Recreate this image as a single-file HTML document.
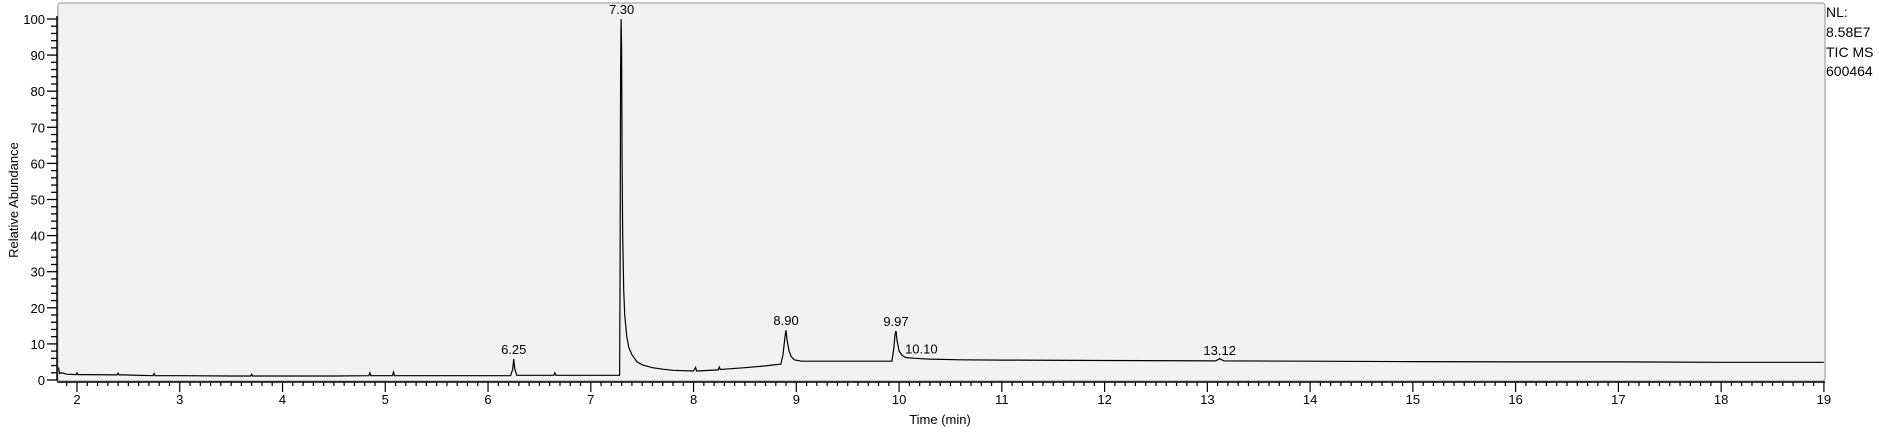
<!DOCTYPE html>
<html><head><meta charset="utf-8"><style>
body{margin:0;background:#fff;}
svg{display:block;font-family:"Liberation Sans",Arial,sans-serif;}
</style></head><body>
<svg width="1879" height="432" viewBox="0 0 1879 432">
<g id="plot"></g>
<g id="axes"></g>
<text x="1826" y="17" font-size="14">NL:</text>
<text x="1826" y="37" font-size="14">8.58E7</text>
<text x="1826" y="57" font-size="14">TIC  MS</text>
<text x="1826" y="76" font-size="14">600464</text>
<text x="940" y="424" font-size="13" text-anchor="middle">Time (min)</text>
<text transform="translate(18,200) rotate(-90)" font-size="13" text-anchor="middle">Relative Abundance</text>
</svg>
<script>
const times=[1.82,1.83,1.85,1.9,1.99,2.0,2.01,2.1,2.39,2.4,2.41,2.45,2.74,2.75,2.76,2.8,3.0,3.5,3.69,3.7,3.71,4.0,4.5,4.84,4.85,4.86,5.0,5.07,5.08,5.09,5.2,5.5,6.0,6.22,6.24,6.25,6.26,6.28,6.5,6.64,6.65,6.66,6.9,7.0,7.27,7.28,7.285,7.29,7.295,7.30,7.305,7.31,7.32,7.33,7.35,7.37,7.4,7.45,7.5,7.6,7.7,7.8,8.0,8.02,8.03,8.04,8.1,8.24,8.25,8.26,8.3,8.5,8.7,8.85,8.87,8.89,8.90,8.91,8.93,8.95,8.98,9.05,9.2,9.5,9.93,9.95,9.96,9.97,9.98,10.0,10.03,10.07,10.15,10.3,10.6,11.0,12.0,13.08,13.12,13.16,14.0,15.0,16.0,17.0,18.0,19.0];
const abundance=[3.5,1.8,2.0,1.6,1.5,2.0,1.5,1.5,1.4,1.9,1.4,1.4,1.2,1.8,1.2,1.2,1.2,1.1,1.1,1.6,1.1,1.1,1.1,1.2,2.0,1.2,1.2,1.2,2.2,1.2,1.2,1.2,1.2,1.2,3.0,5.8,3.0,1.3,1.3,1.3,2.0,1.3,1.3,1.3,1.3,1.3,30,86,100,92,60,40,25,18,12,9,7,5,4.2,3.4,3.0,2.7,2.5,3.5,2.5,2.5,2.6,2.8,3.6,2.9,3.0,3.4,3.9,4.4,7,12,13.8,11,8,6.5,5.6,5.2,5.2,5.2,5.2,9,12.5,13.6,11,8,6.8,6.2,6.0,5.8,5.6,5.5,5.4,5.3,5.9,5.3,5.2,5.1,5.0,5.0,4.9,4.9];
const peakLabels=["6.25","7.30","8.90","9.97","10.10","13.12"];
const peakTimes=[6.25,7.30,8.90,9.97,10.10,13.12];
const peakHeights=[5.8,100,13.8,13.6,6.0,5.6];
const xTicks=[2,3,4,5,6,7,8,9,10,11,12,13,14,15,16,17,18,19];
const yTicks=[0,10,20,30,40,50,60,70,80,90,100];
const X0=57.8,X1=1825,Y0=380,Y1=19;
const xs=t=>77+(t-2)*102.76;
const ys=v=>Y0-(v)*(Y0-Y1)/100;
const NS="http://www.w3.org/2000/svg";
function mk(tag,attrs,parent){const e=document.createElementNS(NS,tag);for(const k in attrs)e.setAttribute(k,attrs[k]);parent.appendChild(e);return e;}
const plot=document.getElementById('plot'),axes=document.getElementById('axes');
const bg=mk('rect',{x:X0,y:3,width:X1-X0,height:Y0-3+1,fill:'#f2f2f2',stroke:'#b4b4b4','stroke-width':1.5,rx:3},plot);


let d='';times.forEach((t,i)=>{d+=(i?'L':'M')+xs(t).toFixed(1)+','+ys(abundance[i]).toFixed(1);});
const line=mk('path',{d:d,fill:'none',stroke:'#000','stroke-width':1.2},plot);


peakLabels.forEach((lab,i)=>{
 const dx=lab==="10.10"?12:0;
 const t=mk('text',{x:xs(peakTimes[i])+dx,y:ys(peakHeights[i])-5,'font-size':13,'text-anchor':'middle'},plot);
 t.textContent=lab;
 
 
});
mk('line',{x1:57,y1:16,x2:57,y2:381,stroke:'#000','stroke-width':1.5},axes);
mk('line',{x1:57,y1:382,x2:X1,y2:382,stroke:'#000','stroke-width':1.5},axes);
for(let v=0;v<=100;v+=2){const major=v%10===0;mk('line',{x1:major?47:51,x2:57,y1:ys(v),y2:ys(v),stroke:'#000','stroke-width':1.3},axes);}
yTicks.forEach(v=>{const t=mk('text',{x:45,y:ys(v)+5,'font-size':13,'text-anchor':'end'},axes);t.textContent=v;
 
 });
for(let k=19;k<=190;k++){const tv=k/10;const major=k%10===0;mk('line',{x1:xs(tv),x2:xs(tv),y1:382,y2:major?392:386,stroke:'#000','stroke-width':1.2},axes);}
xTicks.forEach(v=>{const t=mk('text',{x:xs(v),y:404,'font-size':13,'text-anchor':'middle'},axes);t.textContent=v;
 
 });
</script>
</body></html>
